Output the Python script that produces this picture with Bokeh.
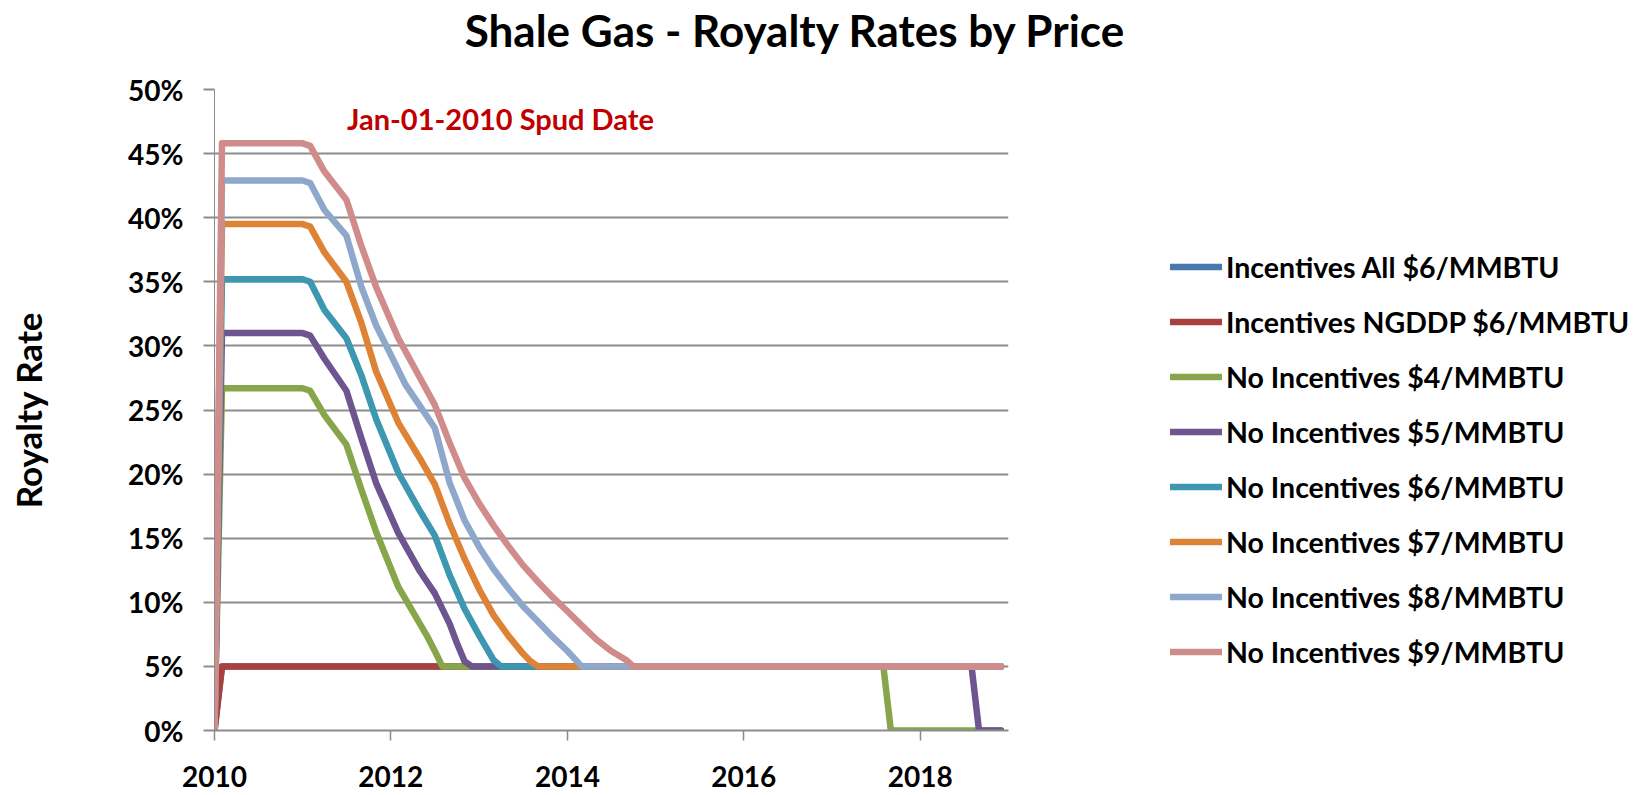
import pandas as pd
from bokeh.plotting import figure
from bokeh.layouts import row, column
from bokeh.models import (ColumnDataSource, Range1d, FixedTicker, DatetimeTickFormatter,
                          Legend, LegendItem, Label)
from bokeh.embed import file_html
from bokeh.resources import INLINE

# ---------------- data ----------------
series_names = [
    "Incentives All $6/MMBTU",
    "Incentives NGDDP $6/MMBTU",
    "No Incentives $4/MMBTU",
    "No Incentives $5/MMBTU",
    "No Incentives $6/MMBTU",
    "No Incentives $7/MMBTU",
    "No Incentives $8/MMBTU",
    "No Incentives $9/MMBTU",
]
series_colors = ["#4A78AE", "#A9403D", "#87A64B", "#6D5590",
                 "#3D97B0", "#DE8236", "#8EA8CC", "#D08C8B"]

all6_dates = ["2010-01-01", "2010-02-01", "2018-12-01"]
all6_vals = [0.0, 5.0, 5.0]

ngddp6_dates = ["2010-01-01", "2010-02-01", "2018-12-01"]
ngddp6_vals = [0.0, 5.0, 5.0]

no4_dates = ["2010-01-01", "2010-02-01", "2011-01-01", "2011-02-01", "2011-04-01",
             "2011-07-01", "2011-09-01", "2011-11-01", "2012-02-01", "2012-05-01",
             "2012-06-01", "2012-07-01", "2012-08-01", "2017-08-01", "2017-09-01",
             "2018-12-01"]
no4_vals = [0.0, 26.7, 26.7, 26.5, 24.6, 22.3, 18.8, 15.5, 11.2, 8.3,
            7.3, 6.2, 5.0, 5.0, 0.0, 0.0]

no5_dates = ["2010-01-01", "2010-02-01", "2011-01-01", "2011-02-01", "2011-04-01",
             "2011-07-01", "2011-09-01", "2011-11-01", "2012-02-01", "2012-05-01",
             "2012-07-01", "2012-09-01", "2012-10-01", "2012-11-01", "2012-12-01",
             "2018-08-01", "2018-09-01", "2018-12-01"]
no5_vals = [0.0, 31.0, 31.0, 30.8, 29.0, 26.5, 22.8, 19.3, 15.4, 12.4,
            10.7, 8.3, 6.8, 5.4, 5.0, 5.0, 0.0, 0.0]

no6_dates = ["2010-01-01", "2010-02-01", "2011-01-01", "2011-02-01", "2011-04-01",
             "2011-07-01", "2011-09-01", "2011-11-01", "2012-02-01", "2012-05-01",
             "2012-07-01", "2012-09-01", "2012-11-01", "2013-01-01", "2013-02-01",
             "2013-03-01", "2013-04-01", "2018-12-01"]
no6_vals = [0.0, 35.2, 35.2, 35.0, 32.8, 30.6, 27.7, 24.3, 20.1, 17.1,
            15.2, 12.1, 9.5, 7.4, 6.4, 5.5, 5.0, 5.0]

no7_dates = ["2010-01-01", "2010-02-01", "2011-01-01", "2011-02-01", "2011-04-01",
             "2011-07-01", "2011-09-01", "2011-11-01", "2012-02-01", "2012-05-01",
             "2012-07-01", "2012-09-01", "2012-11-01", "2013-01-01", "2013-03-01",
             "2013-05-01", "2013-07-01", "2013-08-01", "2013-09-01", "2018-12-01"]
no7_vals = [0.0, 39.5, 39.5, 39.3, 37.3, 35.0, 31.8, 28.0, 24.0, 21.2,
            19.2, 16.1, 13.4, 11.0, 9.0, 7.4, 6.0, 5.4, 5.0, 5.0]

no8_dates = ["2010-01-01", "2010-02-01", "2011-01-01", "2011-02-01", "2011-04-01",
             "2011-07-01", "2011-09-01", "2011-11-01", "2012-01-01", "2012-03-01",
             "2012-05-01", "2012-07-01", "2012-09-01", "2012-11-01", "2013-01-01",
             "2013-03-01", "2013-05-01", "2013-07-01", "2013-09-01", "2013-11-01",
             "2014-01-01", "2014-03-01", "2018-12-01"]
no8_vals = [0.0, 42.9, 42.9, 42.7, 40.6, 38.6, 34.6, 31.6, 29.3, 27.0,
            25.3, 23.6, 19.3, 16.4, 14.3, 12.6, 11.1, 9.7, 8.5, 7.3,
            6.2, 5.0, 5.0]

no9_dates = ["2010-01-01", "2010-02-01", "2011-01-01", "2011-02-01", "2011-04-01",
             "2011-07-01", "2011-09-01", "2011-11-01", "2012-02-01", "2012-05-01",
             "2012-07-01", "2012-09-01", "2012-11-01", "2013-01-01", "2013-03-01",
             "2013-05-01", "2013-07-01", "2013-09-01", "2013-11-01", "2014-01-01",
             "2014-03-01", "2014-05-01", "2014-07-01", "2014-09-01", "2014-10-01",
             "2018-12-01"]
no9_vals = [0.0, 45.8, 45.8, 45.6, 43.6, 41.4, 37.8, 34.6, 30.6, 27.5,
            25.4, 22.4, 19.7, 17.7, 16.0, 14.4, 12.9, 11.6, 10.4, 9.3,
            8.2, 7.1, 6.2, 5.5, 5.0, 5.0]

series_dates = [all6_dates, ngddp6_dates, no4_dates, no5_dates,
                no6_dates, no7_dates, no8_dates, no9_dates]
series_vals = [all6_vals, ngddp6_vals, no4_vals, no5_vals,
               no6_vals, no7_vals, no8_vals, no9_vals]

x_tick_years = ["2010-01-01", "2012-01-01", "2014-01-01", "2016-01-01", "2018-01-01"]
y_ticks = [0, 5, 10, 15, 20, 25, 30, 35, 40, 45, 50]
y_tick_labels = ["0%", "5%", "10%", "15%", "20%", "25%", "30%", "35%", "40%", "45%", "50%"]

title_text = "Shale Gas - Royalty Rates by Price"
note_text = "Jan-01-2010 Spud Date"
y_title = "Royalty Rate"

# ---------------- layout constants ----------------
FONT = "Lato"
GRID = "#8c8c8c"
TOTAL_W, TOTAL_H = 1641, 795
TITLE_H = 62
MAIN_W = 1018
BODY_H = TOTAL_H - TITLE_H
LEG_W = TOTAL_W - MAIN_W


def bare(fig):
    fig.outline_line_color = None
    fig.background_fill_color = "white"
    fig.border_fill_color = "white"
    return fig


# ---------------- title strip ----------------
pt = bare(figure(width=TOTAL_W, height=TITLE_H, output_backend="svg", toolbar_location=None,
                 x_range=Range1d(0, 1), y_range=Range1d(0, 1),
                 x_axis_location=None, y_axis_location=None,
                 min_border_left=0, min_border_right=0, min_border_top=0, min_border_bottom=0))
pt.grid.visible = False
pt.add_layout(Label(x=795, y=33, x_units="screen", y_units="screen", text=title_text,
                    text_align="center", text_baseline="alphabetic", text_font=FONT,
                    text_font_size="44px", text_font_style="bold", text_color="black"))

# ---------------- main chart ----------------
p = bare(figure(width=MAIN_W, height=BODY_H, output_backend="svg", toolbar_location=None,
                x_axis_type="datetime",
                x_range=Range1d(pd.Timestamp("2010-01-01"), pd.Timestamp("2019-01-01")),
                y_range=Range1d(0, 50),
                min_border_left=214, min_border_right=10,
                min_border_top=27, min_border_bottom=65))

sources = []
renderers = []
for col, d, v in zip(series_colors, series_dates, series_vals):
    src = ColumnDataSource(dict(x=pd.to_datetime(d), y=v))
    sources.append(src)
    r = p.line("x", "y", source=src, line_color=col, line_width=6.5,
               line_join="round", line_cap="round")
    renderers.append(r)

xt = [pd.Timestamp(s).timestamp() * 1000 for s in x_tick_years]
p.xaxis.ticker = FixedTicker(ticks=xt)
p.xaxis.formatter = DatetimeTickFormatter(years="%Y", months="%Y", days="%Y")
yt = FixedTicker(ticks=y_ticks)
p.yaxis.ticker = yt
p.yaxis.major_label_overrides = {t: l for t, l in zip(y_ticks, y_tick_labels)}
p.ygrid.ticker = yt
p.xgrid.visible = False
p.ygrid.grid_line_color = GRID
p.ygrid.grid_line_width = 2

for ax in (p.xaxis, p.yaxis):
    ax.axis_line_color = GRID
    ax.major_tick_line_color = GRID
    ax.minor_tick_line_color = None
    ax.major_tick_in = 0
    ax.major_label_text_font = FONT
    ax.major_label_text_font_size = "28px"
    ax.major_label_text_font_style = "bold"
    ax.major_label_text_color = "black"

p.yaxis.axis_line_width = 1
p.yaxis.major_tick_out = 11
p.yaxis.major_tick_line_width = 2
p.yaxis.major_label_standoff = 20
p.yaxis.axis_label = y_title
p.yaxis.axis_label_text_font = FONT
p.yaxis.axis_label_text_font_size = "35px"
p.yaxis.axis_label_text_font_style = "bold"
p.yaxis.axis_label_text_color = "black"
p.yaxis.axis_label_standoff = 76

p.xaxis.axis_line_width = 2
p.xaxis.major_tick_out = 10
p.xaxis.major_tick_line_width = 1.5
p.xaxis.major_label_standoff = 25

p.add_layout(Label(x=286, y=612, x_units="screen", y_units="screen", text=note_text,
                   text_align="center", text_baseline="alphabetic", text_font=FONT,
                   text_font_size="29px", text_font_style="bold", text_color="#C00000"))

# ---------------- legend panel ----------------
pl = bare(figure(width=LEG_W, height=BODY_H, output_backend="svg", toolbar_location=None,
                 x_range=Range1d(0, 1), y_range=Range1d(0, 1),
                 x_axis_location=None, y_axis_location=None,
                 min_border_left=0, min_border_right=0, min_border_top=0, min_border_bottom=0))
pl.grid.visible = False
leg_renderers = []
for col, src in zip(series_colors, sources):
    leg_renderers.append(pl.line("x", "y", source=src, line_color=col, line_width=6.5,
                                 line_join="round", line_cap="round"))

legend = Legend(items=[LegendItem(label=n, renderers=[r]) for n, r in zip(series_names, leg_renderers)],
                location=(152, 61), glyph_width=52, glyph_height=35, label_height=35,
                spacing=20, padding=0, margin=0, label_standoff=4,
                border_line_color=None, background_fill_alpha=0,
                label_text_font=FONT, label_text_font_size="28.5px",
                label_text_font_style="bold", label_text_color="black")
pl.add_layout(legend)

layout = column(pt, row(p, pl))
open("out.html", "w").write(file_html(layout, INLINE))
